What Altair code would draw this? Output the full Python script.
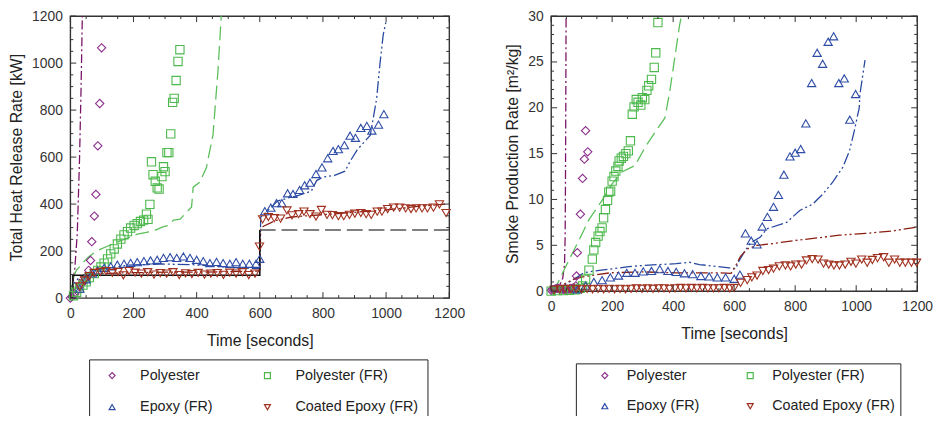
import altair as alt
import pandas as pd

SERIES = ["Polyester", "Polyester (FR)", "Epoxy (FR)", "Coated Epoxy (FR)"]
POINT_COLORS = ["#8B2D8B", "#4CB84C", "#2E4CA6", "#A0301F"]
LINE_COLORS = ["#7A1466", "#5BBF5B", "#2848A0", "#8B1F12"]
SHAPES = ["diamond", "square", "triangle-up", "triangle-down"]
DASHES = [[9, 3, 2, 3], [14, 6], [12, 3, 2, 3, 2, 3], [12, 3, 2, 3, 2, 3]]

X_MAJOR = [0, 200, 400, 600, 800, 1000, 1200]
X_MINOR = [v for v in range(0, 1201, 50) if v % 200]

# ---------------- Heat release rate (left panel) ----------------
HRR_Y_MAJOR = [0, 200, 400, 600, 800, 1000, 1200]
HRR_Y_MINOR = [v for v in range(0, 1201, 50) if v % 200]

HRR_POLY_T = [0, 5, 14, 21, 29, 37, 45, 53, 58, 64, 68, 76, 81, 87, 93, 99]
HRR_POLY_V = [0, 6, 17, 31, 48, 62, 76, 90, 118, 160, 240, 349, 441, 648, 828, 1065]

HRR_POLYFR_T = [10, 20, 29, 40, 50, 60, 76, 87, 97, 107, 118, 128, 139, 149, 160, 170, 181, 191, 202,
                212, 222, 232, 241, 246, 252, 257, 262, 269, 275, 281, 290, 295, 300, 306, 312, 318,
                324, 329, 335, 341, 347]
HRR_POLYFR_V = [10, 25, 41, 55, 69, 87, 104, 118, 132, 149, 167, 188, 209, 230, 251, 269, 283, 298, 309,
                317, 326, 332, 357, 335, 399, 580, 525, 497, 469, 464, 517, 559, 538, 619, 619, 699,
                833, 850, 926, 1007, 1057]

HRR_EPOXY_T = [30, 50, 70, 87, 107, 128, 149, 170, 191, 212, 233, 254, 275, 295, 316, 337, 358, 379, 400,
               421, 442, 463, 484, 505, 525, 546, 567, 588, 600, 616, 635, 653, 670, 688, 705, 726, 742,
               759, 778, 797, 815, 832, 849, 868, 886, 903, 920, 939, 955, 976, 993]
HRR_EPOXY_V = [40, 80, 105, 118, 129, 135, 142, 146, 150, 153, 157, 160, 163, 171, 174, 171, 177, 171, 163,
               157, 149, 154, 149, 146, 153, 146, 146, 146, 167, 370, 385, 404, 404, 446, 443, 460, 480,
               491, 528, 556, 595, 626, 634, 651, 691, 682, 724, 733, 713, 738, 783]

HRR_COATED_T = [30, 45, 60, 76, 95, 113, 133, 151, 168, 186, 205, 225, 245, 265, 285, 305, 325, 345, 365,
                385, 405, 425, 445, 465, 485, 505, 525, 545, 565, 585, 599, 609, 627, 646, 666, 686, 702,
                723, 740, 759, 778, 795, 813, 830, 849, 866, 884, 901, 920, 937, 953, 972, 987, 1005,
                1024, 1043, 1062, 1079, 1095, 1114, 1131, 1150, 1169, 1190]
HRR_COATED_V = [50, 75, 93, 107, 111, 115, 107, 111, 97, 115, 108, 104, 110, 100, 106, 104, 110, 98, 105,
                102, 107, 100, 104, 106, 99, 108, 104, 110, 98, 104, 219, 335, 345, 340, 338, 373, 352,
                357, 368, 357, 347, 375, 354, 353, 349, 349, 354, 359, 362, 357, 354, 368, 368, 379,
                385, 385, 382, 379, 382, 382, 382, 385, 399, 362]

HRR_POLY_LINE_T = [0, 5, 14, 22, 29, 34, 38]
HRR_POLY_LINE_V = [0, 38, 122, 276, 584, 892, 1200]

HRR_POLYFR_LINE_T = [0, 8, 19, 56, 86, 128, 212, 264, 295, 306, 327, 348, 384, 389, 410, 431, 452, 468, 478]
HRR_POLYFR_LINE_V = [0, 83, 118, 174, 202, 227, 272, 286, 304, 307, 332, 336, 388, 472, 493, 556, 696, 976, 1200]

HRR_EPOXY_LINE_T = [0, 10, 30, 60, 76, 181, 285, 390, 494, 588, 600, 603, 620, 656, 692, 723, 763, 780,
                    800, 837, 870, 887, 908, 950, 970, 981, 991, 1000]
HRR_EPOXY_LINE_V = [0, 60, 90, 110, 118, 140, 145, 142, 132, 125, 125, 345, 365, 413, 427, 437, 455, 500,
                    515, 522, 540, 584, 630, 693, 848, 1002, 1121, 1178]

HRR_COATED_LINE_T = [0, 10, 30, 60, 100, 200, 300, 400, 500, 590, 600, 603, 650, 700, 800, 900, 1000, 1100, 1190]
HRR_COATED_LINE_V = [0, 50, 80, 97, 105, 108, 110, 110, 112, 115, 118, 300, 330, 345, 355, 365, 375, 390, 400]

HRR_REF_T = [0, 8, 8, 600, 600]
HRR_REF_V = [0, 0, 97, 97, 290]
HRR_REF_DASH_T = [600, 1200]
HRR_REF_DASH_V = [290, 290]

# ---------------- Smoke production rate (right panel) ----------------
SPR_Y_MAJOR = [0, 5, 10, 15, 20, 25, 30]
SPR_Y_MINOR = [v for v in range(0, 31) if v % 5]

SPR_POLY_T = [0, 5, 10, 15, 20, 25, 30, 35, 40, 45, 50, 55, 60, 65, 70, 75, 81, 83, 86, 96, 103, 109, 113, 120]
SPR_POLY_V = [0.1, 0.15, 0.2, 0.25, 0.3, 0.3, 0.25, 0.2, 0.2, 0.2, 0.2, 0.2, 0.25, 0.3, 0.3, 0.35, 0.58,
              1.65, 4.2, 8.4, 12.3, 14.4, 17.5, 15.2]

SPR_POLYFR_T = [0, 20, 40, 60, 80, 95, 103, 113, 124, 135, 140, 146, 154, 160, 167, 172, 178, 185, 189,
                195, 200, 206, 212, 219, 223, 230, 237, 245, 253, 260, 266, 272, 279, 285, 294, 299, 307,
                314, 320, 329, 338, 343, 350]
SPR_POLYFR_V = [0, 0.05, 0.05, 0.1, 0.15, 0.3, 0.58, 1.3, 2.3, 3.5, 4.5, 5.3, 6.0, 6.5, 6.9, 8.0, 8.9, 9.9,
                10.8, 10.9, 12.0, 12.5, 13.1, 13.6, 14.2, 14.5, 14.7, 15.0, 15.3, 16.4, 19.3, 20.1, 20.9,
                20.6, 20.3, 21.1, 20.9, 21.9, 22.4, 23.1, 24.4, 26.0, 29.3]

SPR_EPOXY_T = [86, 113, 140, 167, 194, 221, 248, 275, 302, 329, 356, 383, 410, 437, 464, 491, 518, 545, 572,
               600, 619, 637, 656, 675, 692, 709, 729, 745, 763, 783, 800, 818, 835, 854, 872, 890, 908,
               926, 943, 961, 979, 998]
SPR_EPOXY_V = [0.2, 0.6, 1.0, 1.2, 1.5, 1.7, 2.0, 2.0, 2.15, 2.2, 2.4, 2.2, 2.1, 1.95, 1.85, 1.65, 1.6, 1.5,
               1.5, 1.35, 1.8, 6.3, 5.5, 5.1, 7.05, 8.1, 9.2, 10.5, 12.7, 14.7, 15.1, 15.5, 18.3, 22.7,
               26.0, 24.8, 27.2, 27.8, 22.7, 23.2, 18.7, 21.5]

SPR_COATED_T = [10, 28, 46, 64, 82, 100, 118, 136, 154, 172, 190, 208, 226, 244, 262, 280, 298, 316, 334,
                352, 370, 388, 406, 424, 442, 460, 478, 496, 514, 532, 550, 568, 586, 600, 621, 643, 658,
                675, 694, 713, 729, 748, 768, 785, 802, 821, 837, 856, 875, 893, 910, 927, 945, 964, 983,
                999, 1018, 1036, 1053, 1070, 1090, 1107, 1126, 1143, 1161, 1181, 1198]
SPR_COATED_V = [0.15, 0.2, 0.25, 0.2, 0.25, 0.2, 0.25, 0.2, 0.25, 0.2, 0.25, 0.2, 0.25, 0.2, 0.25, 0.3,
                0.25, 0.3, 0.25, 0.3, 0.3, 0.25, 0.3, 0.35, 0.3, 0.35, 0.3, 0.35, 0.3, 0.3, 0.3, 0.35,
                0.3, 0.35, 0.9, 1.2, 1.5, 1.7, 2.2, 2.3, 2.45, 2.7, 2.8, 2.7, 2.9, 2.9, 3.35, 3.5, 3.45,
                3.0, 2.9, 2.8, 2.8, 2.9, 3.2, 3.0, 3.45, 3.1, 3.4, 3.6, 3.7, 3.1, 3.45, 3.1, 3.1, 3.1, 3.1]

SPR_POLY_LINE_T = [0, 15, 27, 38, 44, 46, 47, 48, 49]
SPR_POLY_LINE_V = [0, 0.2, 0.6, 1.4, 3, 6, 12, 20, 30]

SPR_POLYFR_LINE_T = [0, 22, 38, 60, 92, 124, 167, 200, 232, 275, 308, 340, 373, 389, 405, 421, 427]
SPR_POLYFR_LINE_V = [0, 0.9, 2.0, 3.5, 5.6, 7.8, 9.9, 11.7, 13.0, 13.7, 15.7, 17.3, 18.9, 21.8, 25.4, 29, 30]

SPR_EPOXY_LINE_T = [0, 50, 108, 140, 194, 248, 302, 356, 410, 454, 486, 540, 583, 605, 616, 632, 653, 686,
                    707, 772, 815, 858, 891, 923, 956, 978, 994, 1010, 1012, 1020, 1029]
SPR_EPOXY_LINE_V = [0, 0.8, 2.0, 2.2, 2.4, 2.65, 2.8, 2.9, 3.0, 3.15, 2.9, 2.7, 2.55, 2.45, 3.3, 4.2, 5.25,
                    5.9, 6.8, 7.5, 8.8, 9.5, 10.6, 11.9, 13.5, 15.3, 17.5, 20, 21.4, 23.2, 25.2]

SPR_COATED_LINE_T = [0, 49, 81, 119, 194, 302, 410, 518, 545, 590, 604, 621, 643, 675, 729, 794, 859, 945,
                     1031, 1118, 1200]
SPR_COATED_LINE_V = [0, 0.9, 1.4, 1.65, 2.0, 2.1, 2.0, 2.0, 2.0, 1.95, 2.7, 3.8, 4.6, 5.0, 5.2, 5.5, 5.75,
                     6.1, 6.3, 6.55, 7.0]

FONT = "Liberation Sans"
FRAME = "#333333"


def points_df(pairs):
    rows = []
    for name, (ts, vs) in zip(SERIES, pairs):
        rows += [{"t": t, "v": v, "series": name} for t, v in zip(ts, vs)]
    return pd.DataFrame(rows)


def line_df(ts, vs):
    return pd.DataFrame({"t": ts, "v": vs, "i": list(range(len(ts)))})


def panel(pts, lines, extra, ymax, ymaj, ymin, ytitle, w, h, leg):
    X = alt.X("t:Q", scale=alt.Scale(domain=[0, 1200], nice=False, zero=False, padding=0),
              axis=alt.Axis(values=X_MAJOR, format="d", title="Time [seconds]", tickSize=0,
                            domain=False, grid=False, labelFlush=False, labelPadding=9,
                            titlePadding=12, labelFontSize=14, titleFontSize=16, labelFont=FONT,
                            titleFont=FONT, labelColor="#333", titleColor="#222",
                            titleFontWeight="normal"))
    Y = alt.Y("v:Q", scale=alt.Scale(domain=[0, ymax], nice=False, zero=False, padding=0),
              axis=alt.Axis(values=ymaj, format="d", title=ytitle, tickSize=0, domain=False,
                            grid=False, labelFlush=False, labelPadding=8, titlePadding=7,
                            labelFontSize=14, titleFontSize=16, labelFont=FONT, titleFont=FONT,
                            labelColor="#333", titleColor="#222", titleFontWeight="normal"))
    layers = []
    for (ts, vs), col, dash in zip(lines, LINE_COLORS, DASHES):
        layers.append(alt.Chart(line_df(ts, vs)).mark_line(
            color=col, strokeDash=dash, strokeWidth=1.3, clip=True).encode(x=X, y=Y, order="i:Q"))
    for (ts, vs), col, dash, sw in extra:
        layers.append(alt.Chart(line_df(ts, vs)).mark_line(
            color=col, strokeDash=dash, strokeWidth=sw, clip=True).encode(x=X, y=Y, order="i:Q"))

    legend = alt.Legend(title=None, orient="none", direction="horizontal", legendX=leg["x"],
                        legendY=leg["y"], columns=2, columnPadding=leg["cp"], rowPadding=leg["rp"],
                        labelFontSize=14.5, labelFont=FONT, labelColor="#222", symbolSize=36,
                        symbolStrokeWidth=1.2, strokeColor="#222", padding=leg["pad"],
                        symbolOffset=leg["so"], labelOffset=leg["lo"], labelLimit=400)
    layers.append(alt.Chart(pts).mark_point(filled=False, size=70, strokeWidth=1.1, opacity=1).encode(
        x=X, y=Y,
        color=alt.Color("series:N", scale=alt.Scale(domain=SERIES, range=POINT_COLORS), legend=legend),
        shape=alt.Shape("series:N", scale=alt.Scale(domain=SERIES, range=SHAPES), legend=legend),
    ))

    # inward tick marks on all four sides
    for vals, L in ((X_MAJOR, 6), (X_MINOR, 3)):
        base = alt.Chart(pd.DataFrame({"t": vals})).mark_rule(color=FRAME, strokeWidth=1)
        layers.append(base.encode(x=X, y=alt.value(0), y2=alt.value(L)))
        layers.append(base.encode(x=X, y=alt.value(h), y2=alt.value(h - L)))
    for vals, L in ((ymaj, 6), (ymin, 3)):
        base = alt.Chart(pd.DataFrame({"v": vals})).mark_rule(color=FRAME, strokeWidth=1)
        layers.append(base.encode(y=Y, x=alt.value(0), x2=alt.value(L)))
        layers.append(base.encode(y=Y, x=alt.value(w), x2=alt.value(w - L)))

    return alt.layer(*layers).properties(width=w, height=h)


left = panel(
    points_df([(HRR_POLY_T, HRR_POLY_V), (HRR_POLYFR_T, HRR_POLYFR_V),
               (HRR_EPOXY_T, HRR_EPOXY_V), (HRR_COATED_T, HRR_COATED_V)]),
    [(HRR_POLY_LINE_T, HRR_POLY_LINE_V), (HRR_POLYFR_LINE_T, HRR_POLYFR_LINE_V),
     (HRR_EPOXY_LINE_T, HRR_EPOXY_LINE_V), (HRR_COATED_LINE_T, HRR_COATED_LINE_V)],
    [((HRR_REF_T, HRR_REF_V), "#111111", [1, 0], 1.6),
     ((HRR_REF_DASH_T, HRR_REF_DASH_V), "#555555", [16, 6], 1.6)],
    1200, HRR_Y_MAJOR, HRR_Y_MINOR, "Total Heat Release Rate [kW]", 383, 285,
    {"x": 19, "y": 347, "cp": 41, "rp": 17, "pad": 9, "so": 7, "lo": 21},
)

right = panel(
    points_df([(SPR_POLY_T, SPR_POLY_V), (SPR_POLYFR_T, SPR_POLYFR_V),
               (SPR_EPOXY_T, SPR_EPOXY_V), (SPR_COATED_T, SPR_COATED_V)]),
    [(SPR_POLY_LINE_T, SPR_POLY_LINE_V), (SPR_POLYFR_LINE_T, SPR_POLYFR_LINE_V),
     (SPR_EPOXY_LINE_T, SPR_EPOXY_LINE_V), (SPR_COATED_LINE_T, SPR_COATED_LINE_V)],
    [],
    30, SPR_Y_MAJOR, SPR_Y_MINOR, "Smoke Production Rate [m²/kg]", 370, 278,
    {"x": 25, "y": 351, "cp": 27, "rp": 16, "pad": 5, "so": 17, "lo": 15},
)

chart = alt.hconcat(left, right, spacing=38).resolve_scale(
    x="independent", y="independent", color="independent", shape="independent"
).resolve_legend(color="independent", shape="independent").properties(
    padding={"left": 0, "top": -2, "right": 0, "bottom": -11}
).configure_view(stroke=FRAME, strokeWidth=1.4)

chart.save("out.html", embed_options={"renderer": "svg", "actions": False})
